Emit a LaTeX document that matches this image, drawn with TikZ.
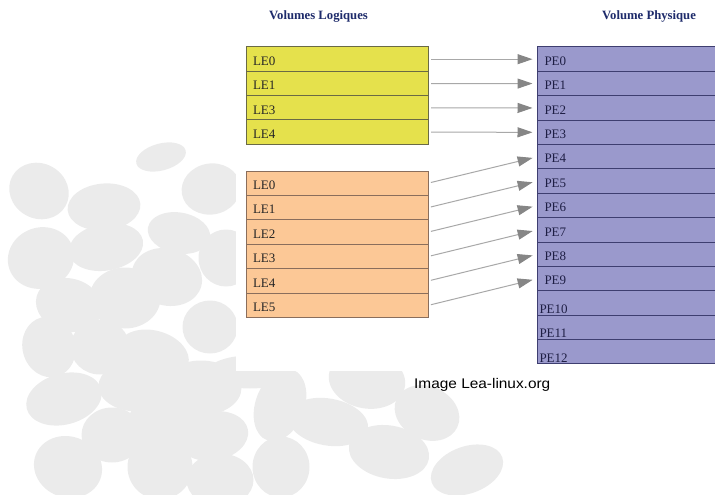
\documentclass[tikz,border=0pt]{standalone}
\usepackage{fontspec}
\setmainfont{Liberation Serif}
\newfontfamily\capfont{Liberation Sans}
\usetikzlibrary{arrows.meta}

\definecolor{blobgray}{HTML}{EBEBEB}
\definecolor{yelfill}{HTML}{E5E14C}
\definecolor{yeldraw}{HTML}{6A6A45}
\definecolor{orafill}{HTML}{FCC896}
\definecolor{oradraw}{HTML}{8A6E5C}
\definecolor{purfill}{HTML}{9A99CC}
\definecolor{purdraw}{HTML}{3E3E70}
\definecolor{titlenavy}{HTML}{1E2B6B}
\definecolor{legray}{HTML}{262626}
\definecolor{penavy}{HTML}{1E1E44}
\definecolor{arrowgray}{HTML}{A8A8A8}
\definecolor{tipgray}{HTML}{868686}

\begin{document}
\begin{tikzpicture}[x=1pt,y=-1pt,
  blob/.style={fill=blobgray},
  cell/.style={line width=1pt, minimum height=24.4pt, inner ysep=0pt,
    align=left, text depth=0pt, outer sep=0pt, anchor=north west,
    font=\fontsize{13}{13}\selectfont},
  lecell/.style={cell, minimum width=182pt, text width=168pt, inner xsep=7pt,
    text height=12.4pt, text=legray},
  yelcell/.style={lecell, fill=yelfill, draw=yeldraw},
  oracell/.style={lecell, fill=orafill, draw=oradraw},
  pecell/.style={cell, fill=purfill, draw=purdraw, minimum width=180pt,
    text width=166pt, inner xsep=7pt, text height=12.4pt, text=penavy},
  pecelllow/.style={pecell, text width=176pt, inner xsep=2pt, text height=21pt},
  title/.style={anchor=base west, inner sep=0pt, text=titlenavy,
    font=\bfseries\fontsize{12.7}{13}\selectfont},
  conn/.style={draw=arrowgray, line width=1pt, shorten <=3pt, shorten >=5pt,
    -{Triangle[length=15pt,width=10pt,color=tipgray]}}
]
\useasboundingbox (0,0) rectangle (715,495);

% grey pebble pattern behind the diagram
\foreach \cx/\cy/\rx/\ry/\ang in {
  161/157/23/11/15, 39/191/28/25/-30, 104/207/34/21/5, 211/189/27/23/10,
  179/233/29/18/-10, 41/258/31/28/20, 106/247/35/21/10, 226/258/25/26/0,
  167/277/33/26/-15, 125/298/33/28/0, 69/305/31/24/-15, 210/327/25/24/0,
  49/347/24/28/15, 100/347/27/25/0, 153/355/34/22/-15, 64/399/36/23/15,
  137/386/36/23/0, 201/388/38/25/0, 112/435/28/25/0, 165/418/35/22/10,
  213/436/33/22/10, 68/467/32/28/-20, 160/467/30/30/0, 220/480/31/24/0,
  281/467/26/28/0, 250/372/40/14/0, 280/405/22/35/-20, 328/422/38/21/-10,
  367/380/36/26/-10, 427/413/31/24/-25, 389/452/38/24/-10, 467/470/35/21/20}
  \fill[blob, rotate around={\ang:(\cx,\cy)}] (\cx,\cy)
    ellipse [x radius={\rx pt+2.5pt}, y radius={\ry pt+2.5pt}];

% white sheet carrying the diagram
\fill[white] (236,0) rectangle (715,370.5);

% column titles
\node[title] (tl) at (269,19.5) {Volumes Logiques};
\node[title] (tp) at (602,19.5) {Volume Physique};

% first logical volume
\node[yelcell] (y0) at (246,47.0) {LE0};
\node[yelcell] (y1) at (246,71.3) {LE1};
\node[yelcell] (y2) at (246,95.6) {LE3};
\node[yelcell] (y3) at (246,119.9) {LE4};

% second logical volume
\foreach \i/\t in {0/LE0,1/LE1,2/LE2,3/LE3,4/LE4,5/LE5}
  \node[oracell] (o\i) at (246,171+24.45*\i) {\t};

% physical volume
\foreach \i in {0,...,9}
  \node[pecell] (p\i) at (537.5,47+24.38*\i) {PE\i};
\foreach \i in {10,11,12}
  \node[pecelllow] (p\i) at (537.5,47+24.38*\i) {PE\i};

% extent mapping
\draw[conn] (y0.east) -- (p0.west);
\draw[conn] (y1.east) -- (p1.west);
\draw[conn] (y2.east) -- (p2.west);
\draw[conn] (y3.east) -- (p3.west);
\foreach \i [evaluate=\i as \j using int(\i+4)] in {0,...,5}
  \draw[conn] (o\i.east) -- (p\j.west);

% credit line
\node[anchor=base west, inner sep=0pt, text=black, font=\capfont\fontsize{14}{14}\selectfont]
  (credit) at (414,388) {\scalebox{1.1}[1]{Image Lea-linux.org}};
\end{tikzpicture}
\end{document}
